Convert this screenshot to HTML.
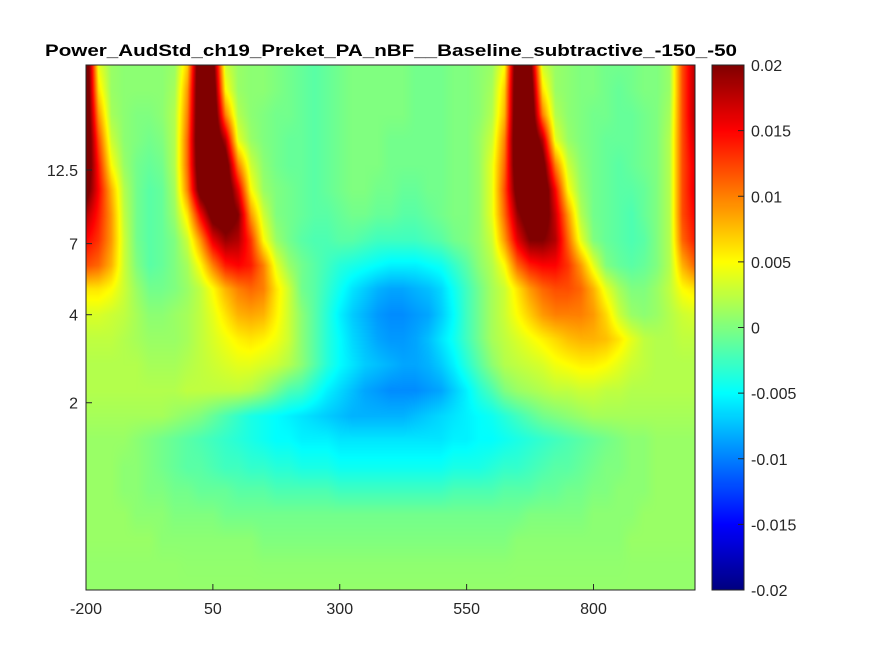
<!DOCTYPE html>
<html><head><meta charset="utf-8"><style>
body{margin:0;background:#fff;width:875px;height:656px;overflow:hidden;font-family:"Liberation Sans",sans-serif}
#wrap{position:relative;width:875px;height:656px}
canvas{position:absolute}
svg{position:absolute;left:0;top:0}
</style></head><body>
<div id="wrap">
<canvas id="hm" width="609" height="525" style="left:86px;top:65px"></canvas>
<canvas id="cb" width="32" height="525" style="left:712px;top:65px"></canvas>
<svg id="ov" width="875" height="656">
<text x="391" y="56" text-anchor="middle" font-size="17" font-weight="bold" fill="#000" textLength="692" lengthAdjust="spacingAndGlyphs">Power_AudStd_ch19_Preket_PA_nBF__Baseline_subtractive_-150_-50</text>
</svg>
</div>
<script>
const times=[-200,-175,-150,-125,-100,-75,-50,-25,0,25,50,75,100,125,150,175,200,225,250,275,300,325,350,375,400,425,450,475,500,525,550,575,600,625,650,675,700,725,750,775,800,825,850,875,900,925,950,975,1000];
const freqs=[28.6,23.5,19.3,15.8,13.0,10.7,8.8,7.2,5.9,4.9,4.0,3.3,2.7,2.2,1.8,1.5,1.2,1.0,0.83,0.68,0.56,0.46];
// values in units of 1e-3
const power=[
[25,4,1,0.5,0.5,0.5,0.5,1,7,25,22,3,1,0.5,0.5,0,-0.5,-1,-1.5,-1,-0.5,0,0,0,0,0,-0.5,-0.5,-0.5,0,0,0.5,1,5,25,22,3,1,0.5,0,0,-0.5,-0.5,-0.5,0,0,1,12,18],
[25,6,1,0.5,0.5,0.5,0.5,1.5,9,25,24,5,1,0.5,0.5,0,-0.5,-1,-1.5,-1,-0.5,0,0,0,0,0,-0.5,-0.5,-0.5,0,0,0.5,1.5,7,25,24,6,1,0.5,0,0,-0.5,-1,-0.5,0,0,1,12,18],
[25,9,1.5,0.5,0,0,0.5,2,10,25,25,10,2,0.5,0,-0.5,-0.5,-1,-1.5,-1,-0.5,0,0,0,0,0,-0.5,-0.5,-0.5,0,0,0.5,2,8,25,25,10,2,0.5,0,-0.5,-0.5,-1,-1,-0.5,0,1.5,12,18],
[25,12,3,0.5,0,-0.5,0,2,11,25,25,18,4,1,0,-0.5,-1,-1,-1.5,-1,-0.5,0,0,0,-0.5,-0.5,-0.5,-0.5,-0.5,0,0,1,3,10,25,25,18,4,1,0,-0.5,-1,-1,-1,-0.5,0,2,12,17],
[24,14,5,1,-0.5,-1,-0.5,2,11,24,25,23,10,3,0.5,-0.5,-1,-1,-1.5,-1,-0.5,0,0,0,-0.5,-0.5,-0.5,-0.5,-0.5,0,0,1,4,11,24,25,22,10,3,0.5,-0.5,-1,-1.5,-1,-0.5,0,2,12,16],
[22,15,8,2,-0.5,-1.5,-1,1.5,10,22,25,24,16,5,1,0,-0.5,-1,-1.5,-1,-0.5,0,0,-0.5,-0.5,-1,-1,-0.5,-0.5,0,0,1,4,12,22,25,24,15,5,1,-0.5,-1,-1.5,-1.5,-1,0,2,12,16],
[18,14,9,2.5,-0.5,-1.5,-1,1,6,15,22,23,20,9,3,0,-0.5,-1,-1.5,-1.5,-1,-0.5,-0.5,-1,-1,-1.5,-1.5,-1,-0.5,0,0,1,4,11,19,23,23,17,9,2,-0.5,-1,-1.5,-2,-1,0,2,12,15],
[15,13,9,3,-0.5,-1.5,-1,0,3,9,16,19,18,13,5,1,-0.5,-1.5,-2,-2,-1.5,-1.5,-2,-2.5,-2.5,-2.5,-2.5,-2,-1.5,-0.5,0,1,3,9,16,20,20,18,11,4,0,-1,-1.5,-2,-1.5,0,2,11,14],
[12,11,8,3,0,-1.5,-1,0,1.5,5,10,14,15,14,10,4,1,-0.5,-1.5,-2.5,-3.5,-4,-4.5,-5,-5.5,-5.5,-5.5,-5,-4.5,-3,-1.5,0.5,2,5,11,14,15,15,13,9,4,0,-1,-1.5,-1,0,2,8,11],
[6,6,5,3,1,-0.5,-0.5,0,1,2.5,5,8,10,11,10,6,3,-0.5,-1.5,-3,-4.5,-6,-7,-8,-8.5,-8.5,-8,-7.5,-6.5,-4.5,-2.5,-0.5,1.5,3,6,9,11,12,12,11,8,4,1.5,0,0,1,2.5,5,6],
[3.5,3.5,3,2.5,1.5,0.5,0.5,1,1.5,2.5,4,6,8,8.5,8,5.5,3,0.5,-1.5,-3.5,-5.5,-7,-8,-9,-9.5,-9.5,-9,-8.5,-7,-5,-2.5,-0.5,1.5,3,5,7,9,10,10,10,9,6.5,3,1,0.5,1,2,3,3.5],
[2.5,2.5,2.5,2,1.5,1,1,1,1.5,2.5,3.5,4.5,5.5,6,5.5,4.5,3,0.5,-1.5,-3.5,-5,-6.5,-7.5,-8.5,-9,-9,-8.5,-7.5,-6,-4.5,-2.5,-0.5,1.5,2.5,3.5,4.5,5.5,6.5,7.5,8,8,7.5,6,4,2.5,2,2,2.5,2.5],
[2,2,2,2,2,1.5,1.5,1.5,2,2.5,3,3.5,4,4,3.5,3,2,0.5,-1.5,-3.5,-5,-6,-7,-7.5,-8,-8.5,-8.5,-8,-7,-5.5,-3.5,-1.5,0.5,2,2.5,3,3.5,4.5,5,5.5,5.5,5,4,3,2.5,2,2,2,2],
[2,2,2,2,2,2,2,2,2.5,2.5,2.5,2.5,2.5,2,1,-0.5,-2,-2.5,-4,-5.5,-6.5,-7.5,-8.5,-9,-9.5,-9.5,-9.5,-9,-8.5,-7,-5.5,-3.5,-2,0,1,1.5,2,2.5,2.5,3,3,2.5,2.5,2,2,2,2,2,2],
[1.5,1.5,1.5,1.5,1.5,1.5,1.5,1,0.5,0,-1,-2,-3,-4,-4.5,-5,-5.5,-6,-6.5,-7,-7.5,-8,-8,-8,-8,-8,-7.5,-7,-6.5,-6,-5.5,-5,-4.5,-3.5,-2.5,-1.5,-0.5,0,0.5,1,1.5,1.5,1.5,1.5,1.5,1.5,1.5,1.5,1.5],
[1,1,1,1,0.5,0,-0.5,-1,-1.5,-2,-2.5,-3,-3.5,-4,-4.5,-5,-5,-5.5,-5.5,-5.5,-6,-6,-6,-6,-6,-6,-6,-6,-6,-5.5,-5.5,-5,-5,-4.5,-4,-3.5,-3,-2.5,-2,-1.5,-1,-0.5,0,0.5,0.5,1,1,1,1],
[1,1,1,0.5,0.5,0,-0.5,-1,-1.5,-1.5,-2,-2.5,-2.5,-3,-3,-3.5,-3.5,-4,-4,-4,-4.5,-4.5,-4.5,-4.5,-4.5,-4.5,-4.5,-4.5,-4.5,-4,-4,-4,-3.5,-3,-3,-2.5,-2,-1.5,-1.5,-1,-0.5,0,0,0.5,0.5,1,1,1,1],
[1,1,1,0.5,0.5,0,0,-0.5,-0.5,-1,-1,-1,-1.5,-1.5,-1.5,-2,-2,-2,-2,-2,-2.5,-2.5,-2.5,-2.5,-2.5,-2.5,-2.5,-2.5,-2.5,-2,-2,-2,-2,-1.5,-1.5,-1.5,-1,-1,-0.5,-0.5,0,0,0.5,0.5,0.5,1,1,1,1],
[1,1,1,1,0.5,0.5,0.5,0,0,0,0,-0.5,-0.5,-0.5,-0.5,-0.5,-0.5,-0.5,-0.5,-0.5,-0.5,-0.5,-0.5,-0.5,-0.5,-0.5,-0.5,-0.5,-0.5,-0.5,-0.5,-0.5,-0.5,-0.5,-0.5,0,0,0,0,0,0.5,0.5,0.5,0.5,1,1,1,1,1],
[1,1,1,1,1,1,0.5,0.5,0.5,0.5,0.5,0.5,0.5,0.5,0,0,0,0,0,0,0,0,0,0,0,0,0,0,0,0,0,0,0,0,0.5,0.5,0.5,0.5,0.5,0.5,0.5,0.5,0.5,1,1,1,1,1,1],
[0.8,0.8,0.8,0.8,0.8,0.8,0.8,0.8,0.7,0.7,0.7,0.7,0.7,0.7,0.6,0.6,0.6,0.6,0.6,0.6,0.6,0.6,0.6,0.6,0.6,0.6,0.6,0.6,0.6,0.6,0.6,0.6,0.6,0.6,0.7,0.7,0.7,0.7,0.7,0.7,0.7,0.7,0.7,0.8,0.8,0.8,0.8,0.8,0.8],
[0.8,0.8,0.8,0.8,0.8,0.8,0.8,0.8,0.8,0.8,0.8,0.8,0.8,0.8,0.8,0.8,0.8,0.8,0.8,0.8,0.8,0.8,0.8,0.8,0.8,0.8,0.8,0.8,0.8,0.8,0.8,0.8,0.8,0.8,0.8,0.8,0.8,0.8,0.8,0.8,0.8,0.8,0.8,0.8,0.8,0.8,0.8,0.8,0.8]
];
const xTicks=[-200,50,300,550,800];
const yTicks=[2,4,7,12.5];
const cTicks=[0.02,0.015,0.01,0.005,0,-0.005,-0.01,-0.015,-0.02];
const cMin=-20,cMax=20;

const X0=86,X1=695,Y0=65,Y1=590;
const tMin=-200,tMax=1000;
function xScale(t){return X0+(t-tMin)*(X1-X0)/(tMax-tMin);}
function yScale(f){return 170-(Math.log(f)-Math.log(12.5))*127;}
function jet(v){
  let f=(v-cMin)/(cMax-cMin);f=Math.max(0,Math.min(1,f));
  const c=x=>Math.round(255*Math.max(0,Math.min(1,x)));
  return [c(1.5-Math.abs(4*f-3)),c(1.5-Math.abs(4*f-2)),c(1.5-Math.abs(4*f-1))];
}
(function(){
  const cv=document.getElementById('hm');const ctx=cv.getContext('2d');
  const W=cv.width,H=cv.height;const img=ctx.createImageData(W,H);
  const gx=times.map(xScale), gy=freqs.map(yScale);
  for(let py=0;py<H;py++){
    const y=Y0+py+0.5;
    let j=0;while(j<gy.length-2&&gy[j+1]<y)j++;
    let fy=(y-gy[j])/(gy[j+1]-gy[j]);fy=Math.max(0,Math.min(1,fy));
    for(let px=0;px<W;px++){
      const x=X0+px+0.5;
      let i=0;while(i<gx.length-2&&gx[i+1]<x)i++;
      let fx=(x-gx[i])/(gx[i+1]-gx[i]);fx=Math.max(0,Math.min(1,fx));
      const a=power[j][i],b=power[j][i+1],c=power[j+1][i],d=power[j+1][i+1];
      const v=(a*(1-fx)+b*fx)*(1-fy)+(c*(1-fx)+d*fx)*fy;
      const col=jet(v);const k=(py*W+px)*4;
      img.data[k]=col[0];img.data[k+1]=col[1];img.data[k+2]=col[2];img.data[k+3]=255;
    }
  }
  ctx.putImageData(img,0,0);
  const cb=document.getElementById('cb');const c2=cb.getContext('2d');
  for(let py=0;py<cb.height;py++){
    const v=cMax-(py+0.5)/cb.height*(cMax-cMin);const col=jet(v);
    c2.fillStyle='rgb('+col.join(',')+')';c2.fillRect(0,py,cb.width,1);
  }
})();
(function(){
  const svg=document.getElementById('ov');const NS='http://www.w3.org/2000/svg';
  function mk(tag,attrs){const e=document.createElementNS(NS,tag);for(const k in attrs)e.setAttribute(k,attrs[k]);svg.appendChild(e);return e;}
  let box=mk('rect',{x:X0,y:Y0,width:X1-X0,height:Y1-Y0,fill:'none',stroke:'#262626','stroke-width':1});
  
  
  xTicks.forEach(t=>{
    const x=xScale(t);
    const l=mk('line',{x1:x,x2:x,y1:Y1,y2:Y1-6,stroke:'#262626'});
    
    
    const tx=mk('text',{x:x,y:Y1+24,'text-anchor':'middle','font-size':16,fill:'#262626'});
    tx.textContent=String(t);
    
    
  });
  yTicks.forEach(f=>{
    const y=yScale(f);
    const l=mk('line',{x1:X0,x2:X0+6,y1:y,y2:y,stroke:'#262626'});
    
    
    const tx=mk('text',{x:X0-8,y:y+6,'text-anchor':'end','font-size':16,fill:'#262626'});
    tx.textContent=String(f);
    
    
  });
  const cb=mk('rect',{x:712,y:Y0,width:32,height:Y1-Y0,fill:'none',stroke:'#262626'});
  
  
  cTicks.forEach(v=>{
    const y=Y0+(cMax-v*1000)/(cMax-cMin)*(Y1-Y0);
    const l=mk('line',{x1:738,x2:744,y1:y,y2:y,stroke:'#262626'});
    
    
    const tx=mk('text',{x:751,y:y+6,'font-size':16,fill:'#262626'});
    tx.textContent=String(v);
    
    
  });
})();
</script>
</body></html>
